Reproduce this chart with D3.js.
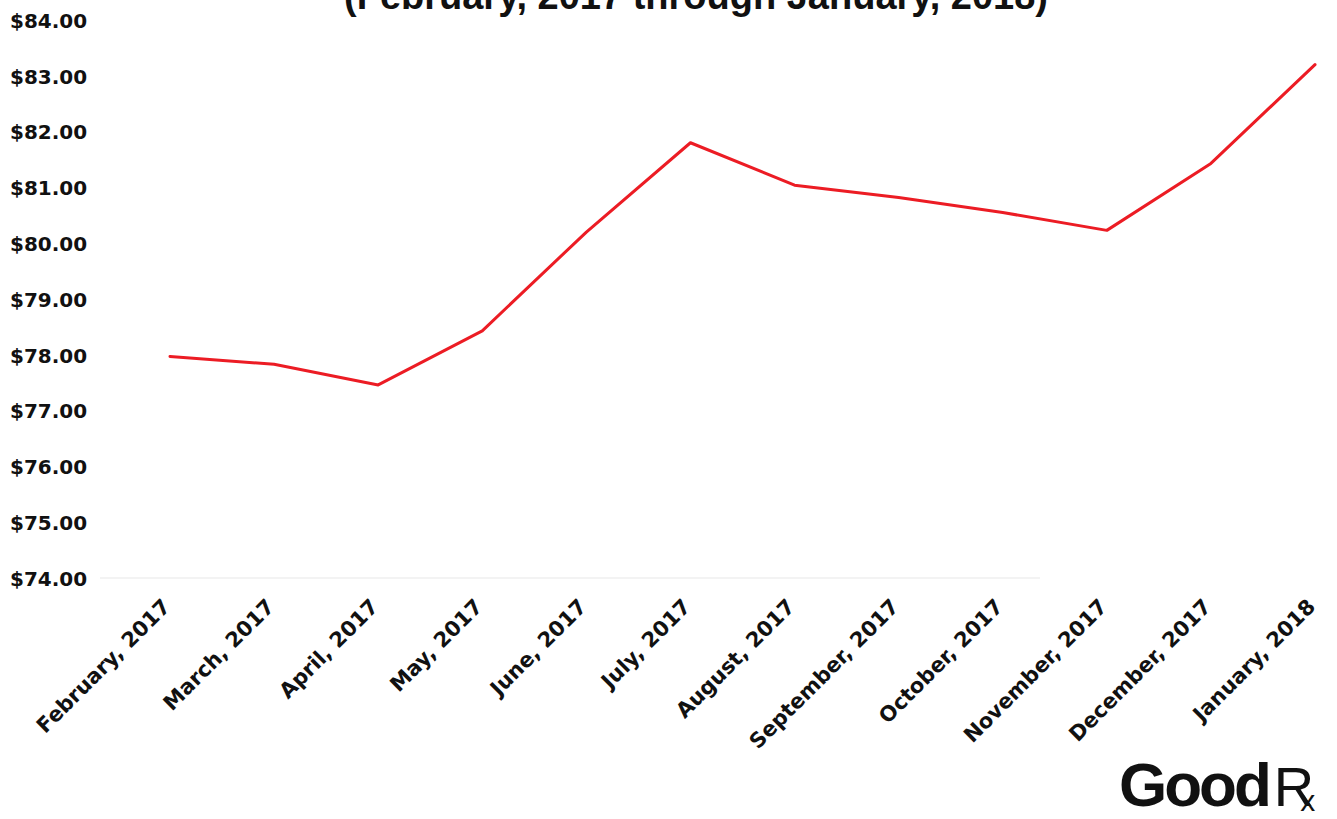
<!DOCTYPE html>
<html>
<head>
<meta charset="utf-8">
<script src="https://cdn.jsdelivr.net/npm/d3@7"></script>
<style>
  html, body { margin: 0; padding: 0; background: #fff; }
  svg { display: block; }
</style>
</head>
<body>
<svg id="chart" width="1337" height="819"></svg>
<script>
// Average monthly price, February 2017 – January 2018
const months = [
  "February, 2017", "March, 2017", "April, 2017", "May, 2017",
  "June, 2017", "July, 2017", "August, 2017", "September, 2017",
  "October, 2017", "November, 2017", "December, 2017", "January, 2018"
];
const prices = [77.97, 77.83, 77.46, 78.43, 80.20, 81.80, 81.04, 80.82, 80.55, 80.23, 81.43, 83.20];
const yTicks = [74, 75, 76, 77, 78, 79, 80, 81, 82, 83, 84];

const svg = d3.select("#chart");
const W = 1337, H = 819;
const margin = { top: 20, right: 22, bottom: 241, left: 170 };

const x = d3.scalePoint()
  .domain(months)
  .range([margin.left, W - margin.right]);

const y = d3.scaleLinear()
  .domain([74, 84])
  .range([H - margin.bottom, margin.top]);

// Title (partly above the top edge)
svg.append("text")
  .attr("x", 696)
  .attr("y", 9)
  .attr("text-anchor", "middle")
  .attr("font-family", "Liberation Sans, Arial, sans-serif")
  .attr("font-weight", "bold")
  .attr("font-size", 38)
  .attr("fill", "#111")
  .text("(February, 2017 through January, 2018)");

// Faint baseline
svg.append("line")
  .attr("x1", 100).attr("x2", 1040)
  .attr("y1", y(74)).attr("y2", y(74))
  .attr("stroke", "#f3f3f3")
  .attr("stroke-width", 2);

// Y axis labels
const yAxis = d3.axisLeft(y)
  .tickValues(yTicks)
  .tickSize(0)
  .tickPadding(0)
  .tickFormat(d => "$" + d3.format(".2f")(d));

const gy = svg.append("g")
  .attr("transform", "translate(10,0)")
  .call(yAxis);
gy.select(".domain").remove();
gy.selectAll("text")
  .attr("text-anchor", "start")
  .attr("dy", "0.36em")
  .attr("font-family", "DejaVu Sans, sans-serif")
  .attr("font-weight", "bold")
  .attr("font-size", 20)
  .attr("fill", "#111");

// X axis labels, rotated
const xAxis = d3.axisBottom(x).tickSize(0).tickPadding(0);
const gx = svg.append("g")
  .attr("transform", `translate(0,${H - margin.bottom})`)
  .call(xAxis);
gx.select(".domain").remove();
gx.selectAll("text")
  .attr("text-anchor", "end")
  .attr("dy", null)
  .attr("y", null)
  .attr("transform", "translate(1,30) rotate(-45)")
  .attr("font-family", "DejaVu Sans, sans-serif")
  .attr("font-weight", "bold")
  .attr("font-size", 21)
  .attr("fill", "#111");

// Price line
const line = d3.line()
  .x((d, i) => x(months[i]))
  .y(d => y(d));

svg.append("path")
  .datum(prices)
  .attr("fill", "none")
  .attr("stroke", "#ec1c24")
  .attr("stroke-width", 3)
  .attr("stroke-linejoin", "round")
  .attr("stroke-linecap", "round")
  .attr("d", line);

// Brand mark
const logo = svg.append("text")
  .attr("x", 1119)
  .attr("y", 806)
  .attr("font-family", "Liberation Sans, Arial, sans-serif")
  .attr("font-size", 62)
  .attr("fill", "#111");
logo.append("tspan")
  .attr("font-weight", "bold")
  .attr("letter-spacing", -3)
  .text("Good");
logo.append("tspan")
  .attr("font-weight", "normal")
  .attr("font-size", 56)
  .attr("dx", 5)
  .text("R");
logo.append("tspan")
  .attr("font-weight", "normal")
  .attr("font-size", 30)
  .attr("dx", -14)
  .attr("dy", 5)
  .text("x");
</script>
</body>
</html>
